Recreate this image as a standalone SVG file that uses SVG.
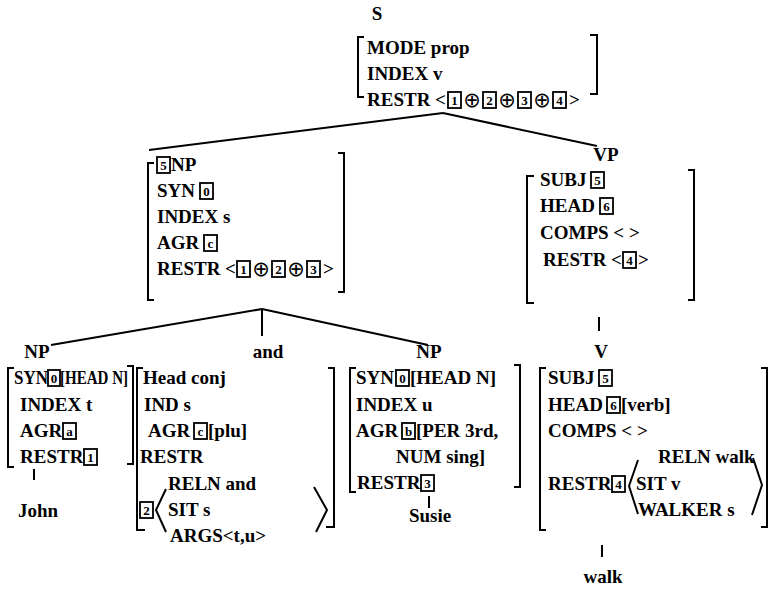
<svg xmlns="http://www.w3.org/2000/svg" width="772" height="604" viewBox="0 0 772 604">
<style>
.t{font-family:"Liberation Serif","Times New Roman",serif;font-size:19px;font-weight:bold;fill:#000}
.c{text-anchor:middle}
.n{font-family:"Liberation Serif",serif;font-size:13px;font-weight:bold;text-anchor:middle;fill:#000}
.op{font-family:"DejaVu Sans",sans-serif;font-size:21px;text-anchor:middle;fill:#000}
.bx{fill:none;stroke:#000;stroke-width:1.8}
.br{fill:none;stroke:#000;stroke-width:2}
.ln{fill:none;stroke:#000;stroke-width:2}
</style>
<rect width="772" height="604" fill="#fff"/>
<g id="connectors">
<line class="ln" x1="443" y1="113" x2="149" y2="150"/>
<line class="ln" x1="443" y1="113" x2="597" y2="146"/>
<line class="ln" x1="262" y1="309" x2="51" y2="345"/>
<line class="ln" x1="262" y1="309" x2="262" y2="336"/>
<line class="ln" x1="262" y1="309" x2="428" y2="345"/>
<line class="ln" x1="599" y1="317" x2="599" y2="331"/>
<line class="ln" x1="34" y1="469" x2="34" y2="480"/>
<line class="ln" x1="429" y1="496" x2="429" y2="508"/>
<line class="ln" x1="602" y1="545" x2="602" y2="557"/>
</g>
<g id="S">
<text class="t c" x="377" y="20">S</text>
<path class="br" d="M364,37 H358 V97 H364"/>
<path class="br" d="M590,35 H597 V94 H590"/>
<text class="t" x="367" y="54">MODE prop</text>
<text class="t" x="367" y="80">INDEX v</text>
<text class="t" x="367" y="106">RESTR &lt;</text>
<rect class="bx" x="448" y="92" width="13" height="16"/><text class="n" x="454.5" y="105">1</text>
<text class="op" x="472" y="107">⊕</text>
<rect class="bx" x="483" y="92" width="13" height="16"/><text class="n" x="489.5" y="105">2</text>
<text class="op" x="507" y="107">⊕</text>
<rect class="bx" x="518" y="92" width="13" height="16"/><text class="n" x="524.5" y="105">3</text>
<text class="op" x="542" y="107">⊕</text>
<rect class="bx" x="553" y="92" width="13" height="16"/><text class="n" x="559.5" y="105">4</text>
<text class="t" x="569" y="106">&gt;</text>
</g>
<g id="NP-coord">
<path class="br" d="M154,163 H148 V300 H154"/>
<path class="br" d="M338,153 H344 V292 H338"/>
<rect class="bx" x="157" y="157" width="13" height="16"/><text class="n" x="163.5" y="170">5</text>
<text class="t" x="171" y="171">NP</text>
<text class="t" x="157" y="197">SYN</text>
<rect class="bx" x="200" y="183" width="13" height="16"/><text class="n" x="206.5" y="196">0</text>
<text class="t" x="157" y="223">INDEX s</text>
<text class="t" x="157" y="249">AGR</text>
<rect class="bx" x="204" y="235" width="13" height="16"/><text class="n" x="210.5" y="248">c</text>
<text class="t" x="157" y="275">RESTR &lt;</text>
<rect class="bx" x="237" y="261" width="13" height="16"/><text class="n" x="243.5" y="274">1</text>
<text class="op" x="261" y="276">⊕</text>
<rect class="bx" x="272" y="261" width="13" height="16"/><text class="n" x="278.5" y="274">2</text>
<text class="op" x="296" y="276">⊕</text>
<rect class="bx" x="307" y="261" width="13" height="16"/><text class="n" x="313.5" y="274">3</text>
<text class="t" x="323" y="275">&gt;</text>
</g>
<g id="VP">
<text class="t c" x="606" y="161">VP</text>
<path class="br" d="M534,176 H527 V303 H534"/>
<path class="br" d="M688,170 H694 V300 H688"/>
<text class="t" x="540" y="186">SUBJ</text>
<rect class="bx" x="591" y="172" width="13" height="16"/><text class="n" x="597.5" y="185">5</text>
<text class="t" x="540" y="212">HEAD</text>
<rect class="bx" x="600" y="198" width="13" height="16"/><text class="n" x="606.5" y="211">6</text>
<text class="t" x="540" y="239">COMPS &lt; &gt;</text>
<text class="t" x="543" y="266">RESTR &lt;</text>
<rect class="bx" x="623" y="252" width="13" height="16"/><text class="n" x="629.5" y="265">4</text>
<text class="t" x="638" y="266">&gt;</text>
</g>
<g id="NP-john">
<text class="t c" x="37" y="358">NP</text>
<path class="br" d="M14,368 H8 V467 H14"/>
<path class="br" d="M127,366 H133 V464 H127"/>
<text class="t" x="14" y="384" textLength="34" lengthAdjust="spacingAndGlyphs">SYN</text>
<rect class="bx" x="48" y="370" width="12" height="16"/><text class="n" x="54" y="383">0</text>
<text class="t" x="60" y="384" textLength="68" lengthAdjust="spacingAndGlyphs">[HEAD N]</text>
<text class="t" x="20" y="411">INDEX t</text>
<text class="t" x="20" y="437">AGR</text>
<rect class="bx" x="63" y="423" width="13" height="16"/><text class="n" x="69.5" y="436">a</text>
<text class="t" x="20" y="463">RESTR</text>
<rect class="bx" x="84" y="449" width="13" height="16"/><text class="n" x="90.5" y="462">1</text>
<text class="t c" x="38" y="517">John</text>
</g>
<g id="and">
<text class="t c" x="268" y="358">and</text>
<path class="br" d="M143,368 H137 V530 H145"/>
<path class="br" d="M328,368 H334 V527 H326"/>
<text class="t" x="143" y="384">Head conj</text>
<text class="t" x="144" y="411">IND s</text>
<text class="t" x="148" y="437">AGR</text>
<rect class="bx" x="194" y="423" width="13" height="16"/><text class="n" x="200.5" y="436">c</text>
<text class="t" x="208" y="437">[plu]</text>
<text class="t" x="140" y="463">RESTR</text>
<text class="t" x="168" y="490">RELN and</text>
<rect class="bx" x="140" y="502" width="13" height="16"/><text class="n" x="146.5" y="515">2</text>
<path class="br" d="M166,489 L156,510 L166,532"/>
<text class="t" x="168" y="516">SIT s</text>
<text class="t" x="170" y="542">ARGS&lt;t,u&gt;</text>
<path class="br" d="M314,487 L327,510 L316,532"/>
</g>
<g id="NP-susie">
<text class="t c" x="429" y="358">NP</text>
<path class="br" d="M356,368 H350 V492 H356"/>
<path class="br" d="M514,365 H520 V487 H514"/>
<text class="t" x="356" y="384">SYN</text>
<rect class="bx" x="396" y="370" width="13" height="16"/><text class="n" x="402.5" y="383">0</text>
<text class="t" x="410" y="384">[HEAD N]</text>
<text class="t" x="356" y="411">INDEX u</text>
<text class="t" x="356" y="437">AGR</text>
<rect class="bx" x="402" y="423" width="13" height="16"/><text class="n" x="408.5" y="436">b</text>
<text class="t" x="416" y="437">[PER 3rd,</text>
<text class="t" x="396" y="463">NUM sing]</text>
<text class="t" x="357" y="489">RESTR</text>
<rect class="bx" x="421" y="475" width="13" height="16"/><text class="n" x="427.5" y="488">3</text>
<text class="t c" x="430" y="522">Susie</text>
</g>
<g id="V">
<text class="t c" x="601" y="358">V</text>
<path class="br" d="M546,368 H540 V530 H546"/>
<path class="br" d="M761,368 H767 V527 H761"/>
<text class="t" x="548" y="384">SUBJ</text>
<rect class="bx" x="599" y="370" width="13" height="16"/><text class="n" x="605.5" y="383">5</text>
<text class="t" x="548" y="411">HEAD</text>
<rect class="bx" x="607" y="397" width="13" height="16"/><text class="n" x="613.5" y="410">6</text>
<text class="t" x="621" y="411">[verb]</text>
<text class="t" x="548" y="437">COMPS &lt; &gt;</text>
<text class="t" x="658" y="463">RELN walk</text>
<text class="t" x="548" y="490">RESTR</text>
<rect class="bx" x="612" y="476" width="13" height="16"/><text class="n" x="618.5" y="489">4</text>
<path class="br" d="M638,460 L629,486 L638,514"/>
<text class="t" x="636" y="490">SIT v</text>
<text class="t" x="638" y="516">WALKER s</text>
<path class="br" d="M753,458 L762,485 L752,515"/>
<text class="t c" x="603" y="583">walk</text>
</g>
</svg>
